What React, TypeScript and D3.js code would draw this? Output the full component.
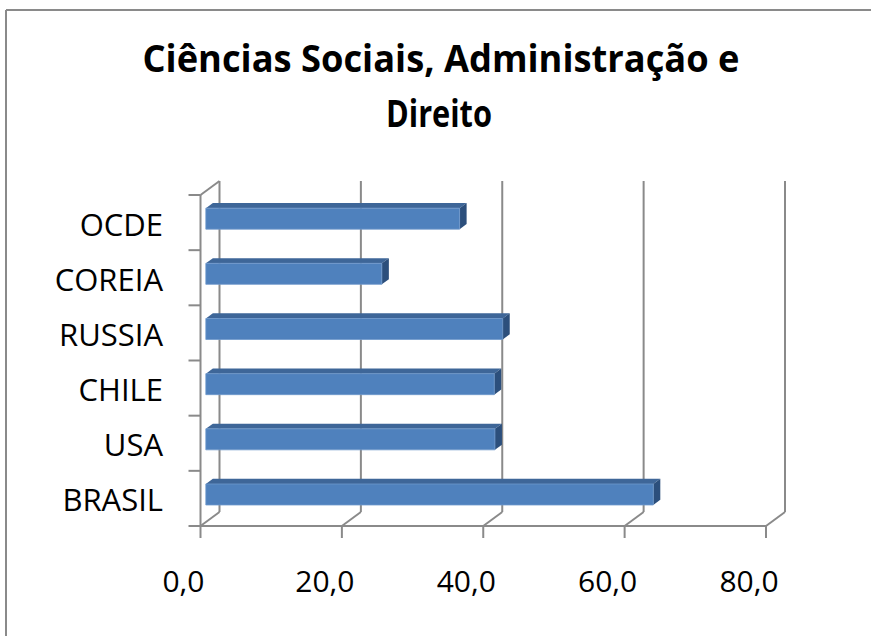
import React from "react";
import * as d3 from "d3";

const title1 = "Ciências Sociais, Administração e";
const title2 = "Direito";
const categories = ["OCDE", "COREIA", "RUSSIA", "CHILE", "USA", "BRASIL"];
const values = [35.9, 24.9, 42.0, 40.8, 40.9, 63.3];
const xTicks = [0, 20, 40, 60, 80];
const xTickLabels = ["0,0", "20,0", "40,0", "60,0", "80,0"];

const W = 871;
const H = 636;
const DX = 19; // full depth projection
const DY = -14;
const Z0 = 0.28;
const Z1 = 0.65;
const BAR_H = 21;
const GRID = "#8a8a8a";
const FONT = "'Open Sans', 'Noto Sans', sans-serif";

export default function App() {
  const x = d3.scaleLinear().domain([0, 80]).range([200.5, 766]);
  const y = d3.scaleBand<string>().domain(categories).range([195, 526]);
  const yTop = 195;
  const yBot = 526;

  const pt = (px: number, py: number, z: number) => [px + DX * z, py + DY * z];
  const poly = (pts: number[][]) => pts.map((p) => p.join(",")).join(" ");

  const bars = categories.map((c, i) => {
    const v = values[i];
    const yc = (y(c) as number) + y.bandwidth() / 2;
    const x0 = x(0);
    const x1 = x(v);
    const t = yc - BAR_H / 2;
    const b = yc + BAR_H / 2;
    const front = [pt(x0, t, Z0), pt(x1, t, Z0), pt(x1, b, Z0), pt(x0, b, Z0)];
    const top = [pt(x0, t, Z0), pt(x1, t, Z0), pt(x1, t, Z1), pt(x0, t, Z1)];
    const side = [pt(x1, t, Z0), pt(x1, t, Z1), pt(x1, b, Z1), pt(x1, b, Z0)];
    return { c, front, top, side };
  });

  const catTicks = [...categories.map((c) => y(c) as number), yBot];

  return (
    <svg
      width={W}
      height={H}
      style={{ position: "absolute", left: 0, top: 0, background: "#fff" }}
    >
      <rect x={0} y={0} width={W} height={H} fill="#fff" />
      {/* chart frame */}
      <line x1={6} y1={10} x2={W} y2={10} stroke="#8a8a8a" strokeWidth={2} />
      <line x1={6} y1={10} x2={6} y2={H} stroke="#8a8a8a" strokeWidth={2} />

      {/* title */}
      <text
        x={441}
        y={72}
        textAnchor="middle"
        fontFamily={FONT}
        fontWeight={700}
        fontSize={37}
        textLength={597}
        lengthAdjust="spacingAndGlyphs"
        fill="#000"
      >
        {title1}
      </text>
      <text
        x={439}
        y={127}
        textAnchor="middle"
        fontFamily={FONT}
        fontWeight={700}
        fontSize={37}
        textLength={106}
        lengthAdjust="spacingAndGlyphs"
        fill="#000"
      >
        {title2}
      </text>

      {/* back wall gridlines */}
      {xTicks.map((tv) => {
        const [bx, by] = pt(x(tv), yTop, 1);
        const [bx2, by2] = pt(x(tv), yBot, 1);
        return (
          <line key={"g" + tv} x1={bx} y1={by} x2={bx2} y2={by2} stroke={GRID} strokeWidth={2} />
        );
      })}
      {/* floor diagonals */}
      {xTicks.map((tv) => {
        const [bx, by] = pt(x(tv), yBot, 1);
        return (
          <line key={"f" + tv} x1={x(tv)} y1={yBot} x2={bx} y2={by} stroke={GRID} strokeWidth={2} />
        );
      })}
      {/* left wall top diagonal */}
      {(() => {
        const [bx, by] = pt(x(0), yTop, 1);
        return <line x1={x(0)} y1={yTop} x2={bx} y2={by} stroke={GRID} strokeWidth={2} />;
      })()}
      {/* front category axis */}
      <line x1={x(0)} y1={yTop} x2={x(0)} y2={yBot} stroke={GRID} strokeWidth={2} />
      {catTicks.map((ty, i) => (
        <line key={"ct" + i} x1={x(0) - 12} y1={ty} x2={x(0)} y2={ty} stroke={GRID} strokeWidth={2} />
      ))}
      {/* front value axis */}
      <line x1={x(0)} y1={yBot} x2={x(80)} y2={yBot} stroke={GRID} strokeWidth={2} />
      {xTicks.map((tv) => (
        <line key={"vt" + tv} x1={x(tv)} y1={yBot} x2={x(tv)} y2={yBot + 12} stroke={GRID} strokeWidth={2} />
      ))}

      {/* bars */}
      {bars.map((b) => (
        <g key={b.c}>
          <polygon points={poly(b.top)} fill="#3e6698" />
          <polygon points={poly(b.side)} fill="#2c4f7c" />
          <polygon points={poly(b.front)} fill="#4f81bd" stroke="#6f98cc" strokeWidth={0.8} />
        </g>
      ))}

      {/* category labels */}
      {categories.map((c) => (
        <text
          key={"l" + c}
          x={163}
          y={(y(c) as number) + y.bandwidth() / 2 + 13}
          textAnchor="end"
          fontFamily={FONT}
          fontSize={31}
          textLength={undefined}
          fill="#000"
        >
          {c}
        </text>
      ))}

      {/* value labels */}
      {xTicks.map((tv, i) => (
        <text
          key={"vl" + tv}
          x={x(tv) - 17}
          y={592}
          textAnchor="middle"
          fontFamily={FONT}
          fontSize={30}
          fill="#000"
        >
          {xTickLabels[i]}
        </text>
      ))}
    </svg>
  );
}
